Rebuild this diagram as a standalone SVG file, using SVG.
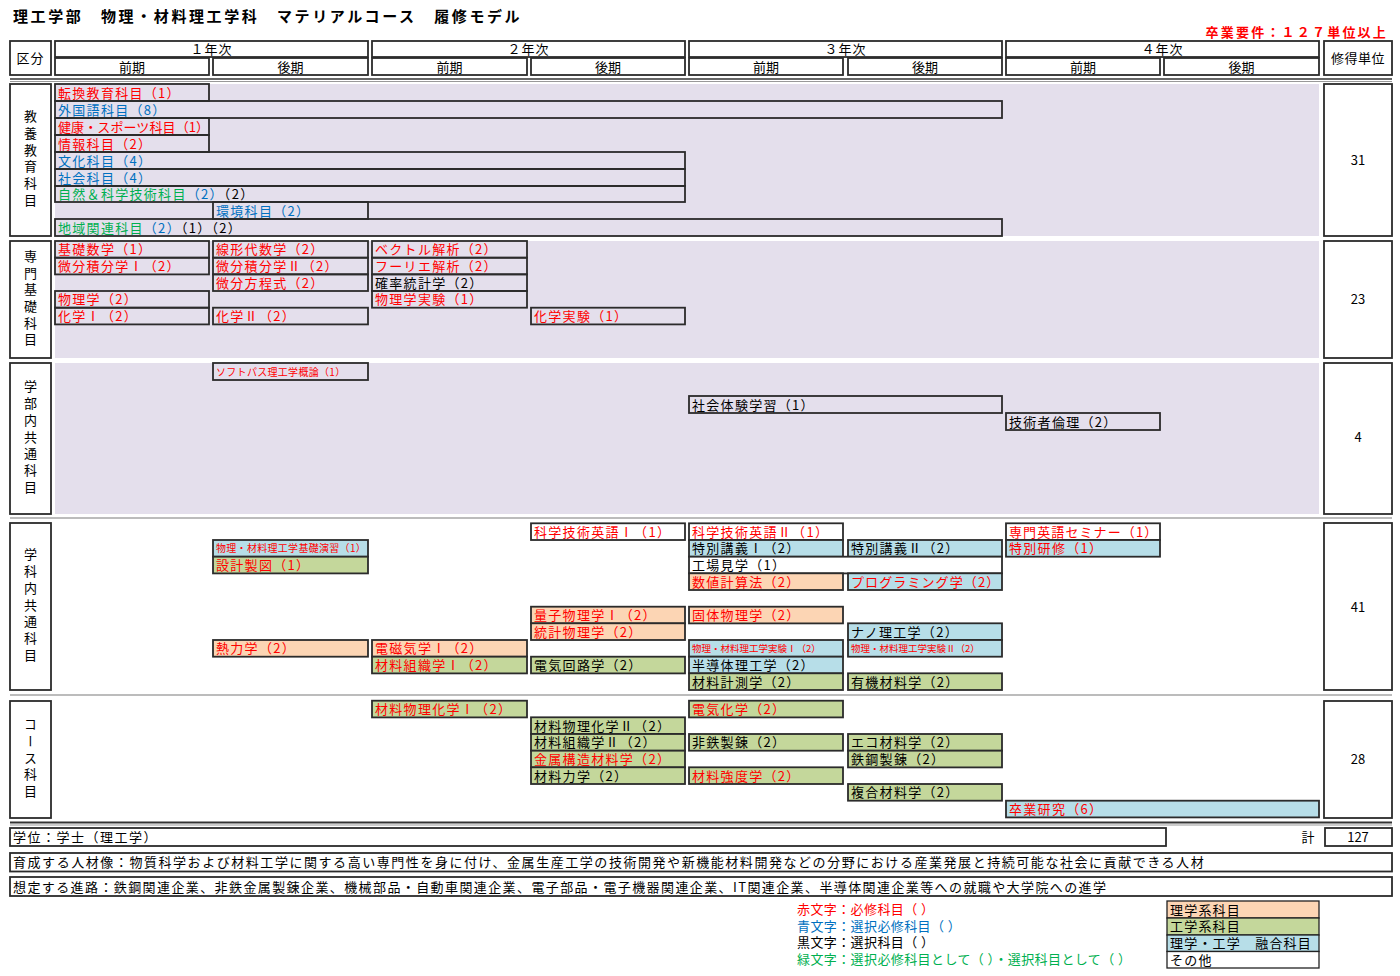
<svg xmlns="http://www.w3.org/2000/svg" width="1400" height="976" viewBox="0 0 1400 976">
<style>
text{font-family:"Noto Sans CJK JP","Liberation Sans",sans-serif;font-size:13px;fill:#000}
.t{letter-spacing:1.3px}
.sm{font-size:10px;letter-spacing:0.3px}
.xs{font-size:9.5px;letter-spacing:0px}
.r{fill:#ff0000}.bl{fill:#0070c0}.gr{fill:#00b050}.k{fill:#000}
.b{stroke:#2b2b2b;stroke-width:1.8}
.lgb{stroke:#222;stroke-width:1.3}
.n{fill:none}.w{fill:#ffffff}.p{fill:#fcd5b4}.g{fill:#c4d79b}.c{fill:#b7dee8}
.hb{fill:#fff;stroke:#2b2b2b;stroke-width:1.8}
.lav{fill:#e4dfec}
.vt{writing-mode:vertical-rl;letter-spacing:3.7px}
.mid{text-anchor:middle}
.lg{letter-spacing:0.4px}
</style>

<!-- title -->
<g id="title">
<text x="13" y="22" style="font-size:15px;font-weight:bold;letter-spacing:2.6px">理工学部　物理・材料理工学科　マテリアルコース　履修モデル</text>
<text x="1388" y="37" style="font-size:13px;font-weight:bold;letter-spacing:2.2px;text-anchor:end" class="r">卒業要件：１２７単位以上</text>
</g>

<!-- header -->
<g id="header">
<rect class="hb" x="10" y="41" width="41" height="34"/>
<text x="30.5" y="62.5" class="mid" style="letter-spacing:1px">区分</text>
<rect class="hb" x="55" y="41" width="313" height="16"/>
<text x="211.5" y="54" class="mid" style="letter-spacing:1px">１年次</text>
<rect class="hb" x="55" y="58" width="154" height="17"/>
<text x="132" y="71.5" class="mid">前期</text>
<rect class="hb" x="213" y="58" width="155" height="17"/>
<text x="290.5" y="71.5" class="mid">後期</text>
<rect class="hb" x="372" y="41" width="313" height="16"/>
<text x="528.5" y="54" class="mid" style="letter-spacing:1px">２年次</text>
<rect class="hb" x="372" y="58" width="155" height="17"/>
<text x="449.5" y="71.5" class="mid">前期</text>
<rect class="hb" x="531" y="58" width="154" height="17"/>
<text x="608" y="71.5" class="mid">後期</text>
<rect class="hb" x="689" y="41" width="313" height="16"/>
<text x="845.5" y="54" class="mid" style="letter-spacing:1px">３年次</text>
<rect class="hb" x="689" y="58" width="154" height="17"/>
<text x="766" y="71.5" class="mid">前期</text>
<rect class="hb" x="848" y="58" width="154" height="17"/>
<text x="925" y="71.5" class="mid">後期</text>
<rect class="hb" x="1006" y="41" width="313" height="16"/>
<text x="1162.5" y="54" class="mid" style="letter-spacing:1px">４年次</text>
<rect class="hb" x="1006" y="58" width="154" height="17"/>
<text x="1083" y="71.5" class="mid">前期</text>
<rect class="hb" x="1164" y="58" width="155" height="17"/>
<text x="1241.5" y="71.5" class="mid">後期</text>
<rect class="hb" x="1324" y="41" width="68" height="34"/>
<text x="1358" y="62.5" class="mid" style="letter-spacing:0.5px">修得単位</text>
</g>

<!-- separators -->
<g id="connectors">
<line x1="10" y1="79" x2="1392" y2="79" stroke="#333" stroke-width="1.6"/>
<line x1="10" y1="81.5" x2="1392" y2="81.5" stroke="#999" stroke-width="1"/>
<line x1="10" y1="518" x2="1392" y2="518" stroke="#a6a6a6" stroke-width="1.5"/>
<line x1="10" y1="695" x2="1392" y2="695" stroke="#a6a6a6" stroke-width="1.5"/>
<line x1="10" y1="822.5" x2="1392" y2="822.5" stroke="#333" stroke-width="1.8"/>
<line x1="10" y1="825" x2="1392" y2="825" stroke="#999" stroke-width="1"/>
</g>

<!-- section backgrounds -->
<g id="backgrounds">
<rect class="lav" x="55" y="84" width="1264" height="152"/>
<rect class="lav" x="55" y="241" width="1264" height="117"/>
<rect class="lav" x="55" y="363" width="1264" height="151"/>
</g>

<!-- section labels -->
<g id="label-kyoyo">
<rect class="hb" x="10" y="84" width="41" height="152"/>
<text x="30.5" y="160" class="vt mid">教養教育科目</text>
<rect class="hb" x="1324" y="84" width="68" height="152"/>
<text x="1358" y="165" class="mid">31</text>
</g>
<g id="label-senmon">
<rect class="hb" x="10" y="241" width="41" height="117"/>
<text x="30.5" y="299.5" class="vt mid">専門基礎科目</text>
<rect class="hb" x="1324" y="241" width="68" height="117"/>
<text x="1358" y="304" class="mid">23</text>
</g>
<g id="label-gakubu">
<rect class="hb" x="10" y="363" width="41" height="151"/>
<text x="30.5" y="438.5" class="vt mid">学部内共通科目</text>
<rect class="hb" x="1324" y="363" width="68" height="151"/>
<text x="1358" y="442" class="mid">4</text>
</g>
<g id="label-gakka">
<rect class="hb" x="10" y="523" width="41" height="167"/>
<text x="30.5" y="606.5" class="vt mid">学科内共通科目</text>
<rect class="hb" x="1324" y="523" width="68" height="167"/>
<text x="1358" y="612" class="mid">41</text>
</g>
<g id="label-course">
<rect class="hb" x="10" y="701" width="41" height="117"/>
<text x="30.5" y="759.5" class="vt mid">コース科目</text>
<rect class="hb" x="1324" y="701" width="68" height="117"/>
<text x="1358" y="764" class="mid">28</text>
</g>

<!-- section 1 -->
<g id="s1-tenkan"><rect class="b n" x="55" y="84" width="154" height="17"/><text x="58" y="97.5" class="t r">転換教育科目（1）</text></g>
<g id="s1-gaikoku"><rect class="b n" x="55" y="101" width="947" height="17"/><text x="58" y="114.5" class="t bl">外国語科目（8）</text></g>
<g id="s1-kenko"><rect class="b n" x="55" y="118" width="154" height="17"/><text x="58" y="131.5" class="r" style="letter-spacing:0.1px">健康・スポーツ科目（1）</text></g>
<g id="s1-joho"><rect class="b n" x="55" y="135" width="154" height="17"/><text x="58" y="148.5" class="t r">情報科目（2）</text></g>
<g id="s1-bunka"><rect class="b n" x="55" y="152" width="630" height="17"/><text x="58" y="165.5" class="t bl">文化科目（4）</text></g>
<g id="s1-shakai"><rect class="b n" x="55" y="169" width="630" height="17"/><text x="58" y="182.5" class="t bl">社会科目（4）</text></g>
<g id="s1-shizen"><rect class="b n" x="55" y="186" width="630" height="16"/><text x="58" y="199" class="t"><tspan class="gr">自然＆科学技術科目</tspan><tspan class="bl">（2）</tspan><tspan class="k">（2）</tspan></text></g>
<g id="s1-kankyo"><rect class="b n" x="213" y="202" width="155" height="17"/><text x="216" y="215.5" class="t bl">環境科目（2）</text></g>
<g id="s1-chiiki"><rect class="b n" x="55" y="219" width="947" height="17"/><text x="58" y="232.5" class="t"><tspan class="gr">地域関連科目</tspan><tspan class="bl">（2）</tspan><tspan class="k">（1）（2）</tspan></text></g>

<!-- section 2 -->
<g id="s2-kiso-sugaku"><rect class="b n" x="55" y="241" width="154" height="16.7"/><text x="58" y="254.3" class="t r">基礎数学（1）</text></g>
<g id="s2-bibun1"><rect class="b n" x="55" y="257.7" width="154" height="16.7"/><text x="58" y="271" class="t r">微分積分学Ⅰ（2）</text></g>
<g id="s2-butsuri"><rect class="b n" x="55" y="291" width="154" height="16.7"/><text x="58" y="304.3" class="t r">物理学（2）</text></g>
<g id="s2-kagaku1"><rect class="b n" x="55" y="307.7" width="154" height="16.7"/><text x="58" y="321" class="t r">化学Ⅰ（2）</text></g>
<g id="s2-senkei"><rect class="b n" x="213" y="241" width="155" height="16.7"/><text x="216" y="254.3" class="t r">線形代数学（2）</text></g>
<g id="s2-bibun2"><rect class="b n" x="213" y="257.7" width="155" height="16.7"/><text x="216" y="271" class="t r">微分積分学Ⅱ（2）</text></g>
<g id="s2-hoteishiki"><rect class="b n" x="213" y="274.3" width="155" height="16.7"/><text x="216" y="287.6" class="t r">微分方程式（2）</text></g>
<g id="s2-kagaku2"><rect class="b n" x="213" y="307.7" width="155" height="16.7"/><text x="216" y="321" class="t r">化学Ⅱ（2）</text></g>
<g id="s2-vector"><rect class="b n" x="372" y="241" width="155" height="16.7"/><text x="375" y="254.3" class="t r">ベクトル解析（2）</text></g>
<g id="s2-fourier"><rect class="b n" x="372" y="257.7" width="155" height="16.7"/><text x="375" y="271" class="t r">フーリエ解析（2）</text></g>
<g id="s2-kakuritsu"><rect class="b n" x="372" y="274.3" width="155" height="16.7"/><text x="375" y="287.6" class="t k">確率統計学（2）</text></g>
<g id="s2-butsuri-jikken"><rect class="b n" x="372" y="291" width="155" height="16.7"/><text x="375" y="304.3" class="t r">物理学実験（1）</text></g>
<g id="s2-kagaku-jikken"><rect class="b n" x="531" y="307.7" width="154" height="16.7"/><text x="534" y="321" class="t r">化学実験（1）</text></g>

<!-- section 3 -->
<g id="s3-softpath"><rect class="b n" x="213" y="363" width="155" height="17"/><text x="216" y="375.5" class="sm r">ソフトパス理工学概論（1）</text></g>
<g id="s3-shakai-taiken"><rect class="b n" x="689" y="396" width="313" height="17"/><text x="692" y="409.5" class="t k">社会体験学習（1）</text></g>
<g id="s3-rinri"><rect class="b n" x="1006" y="413" width="154" height="17"/><text x="1009" y="426.5" class="t k">技術者倫理（2）</text></g>

<!-- section 4 -->
<g id="s4-eigo1"><rect class="b w" x="531" y="523.3" width="154" height="16.7"/><text x="534" y="536.6" class="t r">科学技術英語Ⅰ（1）</text></g>
<g id="s4-kiso-enshu"><rect class="b c" x="213" y="540" width="155" height="16.7"/><text x="216" y="552.3" class="sm r">物理・材料理工学基礎演習（1）</text></g>
<g id="s4-sekkei"><rect class="b g" x="213" y="556.7" width="155" height="16.7"/><text x="216" y="570" class="t r">設計製図（1）</text></g>
<g id="s4-ryoshi"><rect class="b p" x="531" y="606.7" width="154" height="16.7"/><text x="534" y="620" class="t r">量子物理学Ⅰ（2）</text></g>
<g id="s4-tokei"><rect class="b p" x="531" y="623.3" width="154" height="16.7"/><text x="534" y="636.6" class="t r">統計物理学（2）</text></g>
<g id="s4-netsu"><rect class="b p" x="213" y="640" width="155" height="16.7"/><text x="216" y="653.3" class="t r">熱力学（2）</text></g>
<g id="s4-denji"><rect class="b p" x="372" y="640" width="155" height="16.7"/><text x="375" y="653.3" class="t r">電磁気学Ⅰ（2）</text></g>
<g id="s4-soshiki1"><rect class="b g" x="372" y="656.7" width="155" height="16.7"/><text x="375" y="670" class="t r">材料組織学Ⅰ（2）</text></g>
<g id="s4-denki-kairo"><rect class="b g" x="531" y="656.7" width="154" height="16.7"/><text x="534" y="670" class="t k">電気回路学（2）</text></g>
<g id="s4-eigo2"><rect class="b w" x="689" y="523.3" width="154" height="16.7"/><text x="692" y="536.6" class="t r">科学技術英語Ⅱ（1）</text></g>
<g id="s4-kogi1"><rect class="b c" x="689" y="540" width="154" height="16.7"/><text x="692" y="553.3" class="t k">特別講義Ⅰ（2）</text></g>
<g id="s4-kogi2"><rect class="b c" x="848" y="540" width="154" height="16.7"/><text x="851" y="553.3" class="t k">特別講義Ⅱ（2）</text></g>
<g id="s4-kojo"><rect class="b w" x="689" y="556.7" width="313" height="16.7"/><text x="692" y="570" class="t k">工場見学（1）</text></g>
<g id="s4-suchi"><rect class="b p" x="689" y="573.3" width="154" height="16.7"/><text x="692" y="586.6" class="t r">数値計算法（2）</text></g>
<g id="s4-program"><rect class="b c" x="848" y="573.3" width="154" height="16.7"/><text x="851" y="586.6" class="r" style="letter-spacing:1.1px">プログラミング学（2）</text></g>
<g id="s4-kotai"><rect class="b p" x="689" y="606.7" width="154" height="16.7"/><text x="692" y="620" class="t r">固体物理学（2）</text></g>
<g id="s4-nano"><rect class="b c" x="848" y="623.3" width="154" height="16.7"/><text x="851" y="636.6" class="t k">ナノ理工学（2）</text></g>
<g id="s4-jikken1"><rect class="b c" x="689" y="640" width="154" height="16.7"/><text x="692" y="652.3" class="xs r">物理・材料理工学実験Ⅰ（2）</text></g>
<g id="s4-jikken2"><rect class="b c" x="848" y="640" width="154" height="16.7"/><text x="851" y="652.3" class="xs r">物理・材料理工学実験Ⅱ（2）</text></g>
<g id="s4-handotai"><rect class="b c" x="689" y="656.7" width="154" height="16.7"/><text x="692" y="670" class="t k">半導体理工学（2）</text></g>
<g id="s4-keisoku"><rect class="b g" x="689" y="673.3" width="154" height="16.7"/><text x="692" y="686.6" class="t k">材料計測学（2）</text></g>
<g id="s4-yuki"><rect class="b g" x="848" y="673.3" width="154" height="16.7"/><text x="851" y="686.6" class="t k">有機材料学（2）</text></g>
<g id="s4-seminar"><rect class="b w" x="1006" y="523.3" width="154" height="16.7"/><text x="1009" y="536.6" class="r" style="letter-spacing:1.1px">専門英語セミナー（1）</text></g>
<g id="s4-kenshu"><rect class="b c" x="1006" y="540" width="154" height="16.7"/><text x="1009" y="553.3" class="t r">特別研修（1）</text></g>

<!-- section 5 -->
<g id="s5-butsuri-kagaku1"><rect class="b g" x="372" y="700.7" width="155" height="16.7"/><text x="375" y="714" class="t r">材料物理化学Ⅰ（2）</text></g>
<g id="s5-butsuri-kagaku2"><rect class="b g" x="531" y="717.3" width="154" height="16.7"/><text x="534" y="730.6" class="t k">材料物理化学Ⅱ（2）</text></g>
<g id="s5-soshiki2"><rect class="b g" x="531" y="734" width="154" height="16.7"/><text x="534" y="747.3" class="t k">材料組織学Ⅱ（2）</text></g>
<g id="s5-kinzoku"><rect class="b g" x="531" y="750.7" width="154" height="16.7"/><text x="534" y="764" class="t r">金属構造材料学（2）</text></g>
<g id="s5-rikigaku"><rect class="b g" x="531" y="767.3" width="154" height="16.7"/><text x="534" y="780.6" class="t k">材料力学（2）</text></g>
<g id="s5-denki-kagaku"><rect class="b g" x="689" y="700.7" width="154" height="16.7"/><text x="692" y="714" class="t r">電気化学（2）</text></g>
<g id="s5-hitetsu"><rect class="b g" x="689" y="734" width="154" height="16.7"/><text x="692" y="747.3" class="t k">非鉄製錬（2）</text></g>
<g id="s5-kyodo"><rect class="b g" x="689" y="767.3" width="154" height="16.7"/><text x="692" y="780.6" class="t r">材料強度学（2）</text></g>
<g id="s5-eco"><rect class="b g" x="848" y="734" width="154" height="16.7"/><text x="851" y="747.3" class="t k">エコ材料学（2）</text></g>
<g id="s5-tekko"><rect class="b g" x="848" y="750.7" width="154" height="16.7"/><text x="851" y="764" class="t k">鉄鋼製錬（2）</text></g>
<g id="s5-fukugo"><rect class="b g" x="848" y="784" width="154" height="16.7"/><text x="851" y="797.3" class="t k">複合材料学（2）</text></g>
<g id="s5-sotsuken"><rect class="b c" x="1006" y="800.7" width="313" height="16.7"/><text x="1009" y="814" class="t r">卒業研究（6）</text></g>

<!-- bottom rows -->
<g id="gakui">
<rect class="hb" x="10" y="828" width="1156" height="18"/>
<text x="13" y="842" style="letter-spacing:1.5px">学位：学士（理工学）</text>
<text x="1308" y="842" class="mid">計</text>
<rect class="hb" x="1325" y="828" width="67" height="18"/>
<text x="1358" y="842" class="mid">127</text>
</g>
<g id="jinzai">
<rect class="hb" x="10" y="853" width="1382" height="18.5"/>
<text x="13" y="867" style="letter-spacing:1.55px">育成する人材像：物質科学および材料工学に関する高い専門性を身に付け、金属生産工学の技術開発や新機能材料開発などの分野における産業発展と持続可能な社会に貢献できる人材</text>
</g>
<g id="shinro">
<rect class="hb" x="10" y="877" width="1382" height="19"/>
<text x="13" y="891.5" style="letter-spacing:1.4px">想定する進路：鉄鋼関連企業、非鉄金属製錬企業、機械部品・自動車関連企業、電子部品・電子機器関連企業、IT関連企業、半導体関連企業等への就職や大学院への進学</text>
</g>

<!-- legend -->
<g id="legend-text">
<text x="797" y="914" class="lg r">赤文字：必修科目（ ）</text>
<text x="797" y="930.7" class="lg bl">青文字：選択必修科目（ ）</text>
<text x="797" y="947.4" class="lg k">黒文字：選択科目（ ）</text>
<text x="797" y="964.1" class="lg gr">緑文字：選択必修科目として（ ）・選択科目として（ ）</text>
</g>
<g id="legend-boxes">
<rect class="lgb p" x="1167" y="901" width="152" height="17"/>
<text x="1170" y="914.5" style="letter-spacing:1.2px">理学系科目</text>
<rect class="lgb g" x="1167" y="918" width="152" height="17"/>
<text x="1170" y="931.2" style="letter-spacing:1.2px">工学系科目</text>
<rect class="lgb c" x="1167" y="935" width="152" height="16.5"/>
<text x="1170" y="947.9" style="letter-spacing:1.2px">理学・工学　融合科目</text>
<rect class="lgb w" x="1167" y="951.5" width="152" height="16.5"/>
<text x="1170" y="964.6" style="letter-spacing:1.2px">その他</text>
</g>
</svg>
